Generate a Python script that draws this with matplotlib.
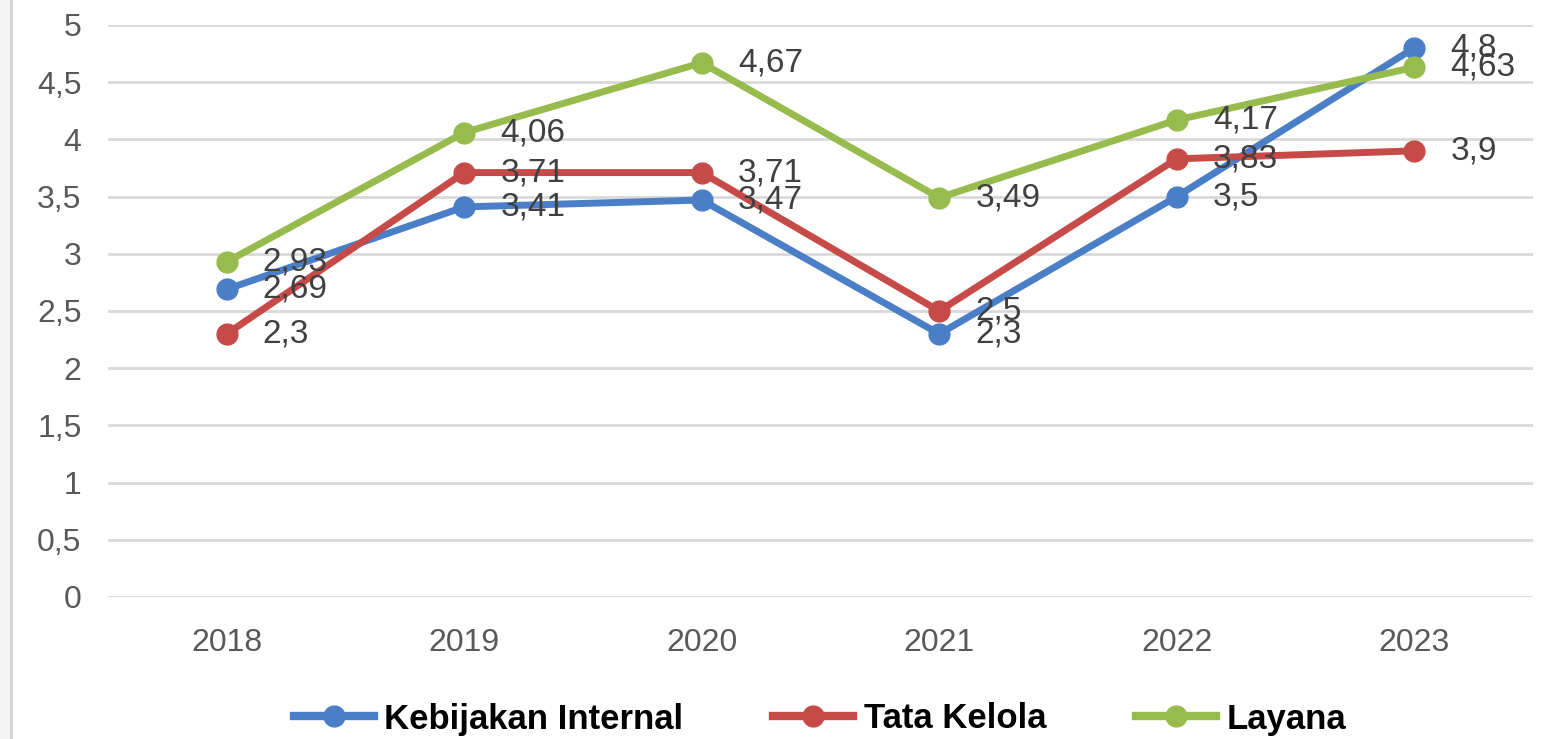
import numpy as np
import matplotlib
matplotlib.use("Agg")
import matplotlib.pyplot as plt
from matplotlib.patches import Rectangle
from matplotlib.lines import Line2D

years = ["2018", "2019", "2020", "2021", "2022", "2023"]
kebijakan = [2.69, 3.41, 3.47, 2.30, 3.50, 4.80]
tata_kelola = [2.30, 3.71, 3.71, 2.50, 3.83, 3.90]
layana = [2.93, 4.06, 4.67, 3.49, 4.17, 4.63]

series = [("Kebijakan Internal", kebijakan, "#4a7ec6"),
          ("Tata Kelola", tata_kelola, "#c64b48"),
          ("Layana", layana, "#97bb4d")]

plt.rcParams["font.family"] = ["Liberation Sans", "DejaVu Sans"]

W, H = 1549, 739
fig = plt.figure(figsize=(W / 100, H / 100), dpi=100)
fig.patch.set_facecolor("white")
# left frame strip
fig.patches.append(Rectangle((0, 0), 10 / W, 1, transform=fig.transFigure,
                             facecolor="#f3f3f3", edgecolor="none", zorder=0))
fig.patches.append(Rectangle((10 / W, 0), 2.5 / W, 1, transform=fig.transFigure,
                             facecolor="#d4d4d4", edgecolor="none", zorder=0))

ax = fig.add_axes([108 / W, 1 - 597 / H, (1533 - 108) / W, (597 - 25) / H])
x = np.arange(len(years))

for name, vals, col in series:
    ax.plot(x, vals, color=col, lw=5, marker="o", ms=15, solid_capstyle="round", zorder=3)
    for xi, v in zip(x, vals):
        lab = f"{v:g}".replace(".", ",")
        ax.annotate(lab, (xi, v), xytext=(26, 0), textcoords="offset points",
                    ha="left", va="center", fontsize=24, color="#404040", zorder=4)

ax.set_xlim(-0.5, 5.5)
ax.set_ylim(0, 5)
ax.set_yticks(np.arange(0, 5.01, 0.5))
ax.set_yticklabels([f"{t:g}".replace(".", ",") for t in np.arange(0, 5.01, 0.5)])
ax.set_xticks(x)
ax.set_xticklabels(years)
ax.tick_params(axis="both", length=0, labelsize=23, labelcolor="#595959")
ax.tick_params(axis="y", pad=19)
ax.tick_params(axis="x", pad=22)
ax.grid(axis="y", color="#d9d9d9", lw=2)
ax.set_axisbelow(True)
for s in ax.spines.values():
    s.set_visible(False)

handles = [Line2D([0], [0], color=c, lw=6, marker="o", ms=15) for _, _, c in series]
fig.legend(handles, [n for n, _, _ in series], loc="center",
           bbox_to_anchor=(820 / W, 1 - 719 / H),
           ncol=3, frameon=False, handlelength=2.3, columnspacing=2.6, handletextpad=0.3,
           prop={"size": 25, "weight": "bold"})

fig.savefig("out.png", dpi=100)
